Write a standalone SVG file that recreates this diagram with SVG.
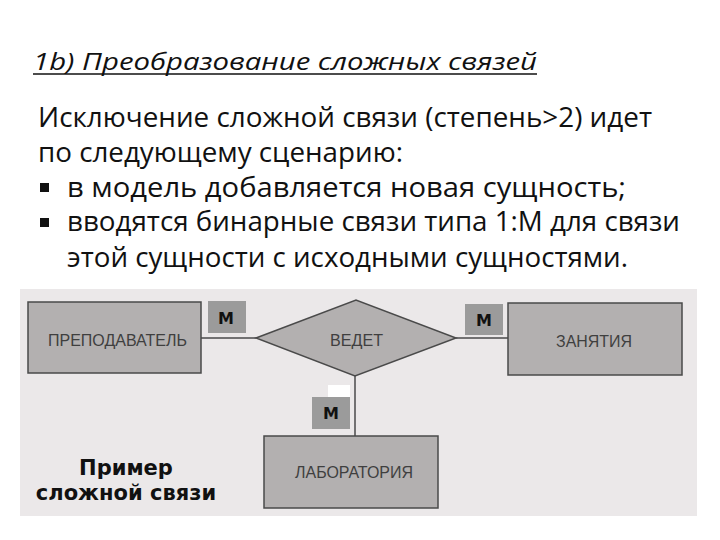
<svg xmlns="http://www.w3.org/2000/svg" width="720" height="540" viewBox="0 0 720 540">
<style>
.main{font-family:"Open Sans","Liberation Sans",sans-serif;font-size:27.5px;fill:#111}
.title{font-family:"Open Sans","Liberation Sans",sans-serif;font-size:24px;font-style:italic;fill:#111}
.ent{fill:#b3b0b0;stroke:#4a4a4a;stroke-width:1.5}
.etxt{font-family:"Liberation Sans",Arial,sans-serif;font-size:17px;fill:#3f3f3f}
.mbox{fill:#9b9b9b}
.mtxt{font-family:"DejaVu Sans",sans-serif;font-size:16px;font-weight:bold;fill:#111;text-anchor:middle}
.conn{stroke:#4a4a4a;stroke-width:1.5;fill:none}
.cap{font-family:"DejaVu Sans",Verdana,sans-serif;font-size:21px;font-weight:bold;fill:#111;text-anchor:middle}
</style>
<rect width="720" height="540" fill="#ffffff"/>
<g id="title">
<text class="title" x="33" y="70" textLength="504" lengthAdjust="spacingAndGlyphs">1b) Преобразование сложных связей</text>
<line x1="33" y1="74" x2="537" y2="74" stroke="#111" stroke-width="1.6"/>
</g>
<g id="body">
<text class="main" x="38" y="127" textLength="614" lengthAdjust="spacingAndGlyphs">Исключение сложной связи (степень&gt;2) идет</text>
<text class="main" x="38" y="162" textLength="365" lengthAdjust="spacingAndGlyphs">по следующему сценарию:</text>
<rect x="40" y="183" width="9" height="9" fill="#111"/>
<text class="main" x="67" y="197" textLength="559" lengthAdjust="spacingAndGlyphs">в модель добавляется новая сущность;</text>
<rect x="40" y="218" width="9" height="9" fill="#111"/>
<text class="main" x="67" y="231" textLength="613" lengthAdjust="spacingAndGlyphs">вводятся бинарные связи типа 1:M для связи</text>
<text class="main" x="67" y="267" textLength="561" lengthAdjust="spacingAndGlyphs">этой сущности с исходными сущностями.</text>
</g>
<rect id="photo" x="20" y="289" width="677" height="227" fill="#ebe8e9"/>
<g id="connectors">
<line class="conn" x1="201" y1="338" x2="256" y2="338"/>
<line class="conn" x1="456" y1="338" x2="508" y2="338"/>
<line class="conn" x1="355" y1="376" x2="355" y2="436"/>
</g>
<g id="node-prepodavatel">
<rect class="ent" x="28" y="302" width="173" height="71"/>
<text class="etxt" x="48" y="346" textLength="139" lengthAdjust="spacingAndGlyphs">ПРЕПОДАВАТЕЛЬ</text>
</g>
<g id="node-vedet">
<polygon class="ent" points="256,338 356,300 456,338 355,376"/>
<text class="etxt" x="330" y="346" textLength="53" lengthAdjust="spacingAndGlyphs">ВЕДЕТ</text>
</g>
<g id="node-zanyatiya">
<rect class="ent" x="508" y="303" width="174" height="72"/>
<text class="etxt" x="556" y="347" textLength="76" lengthAdjust="spacingAndGlyphs">ЗАНЯТИЯ</text>
</g>
<g id="node-laboratoriya">
<rect class="ent" x="264" y="436" width="174" height="72"/>
<text class="etxt" x="295" y="478" textLength="118" lengthAdjust="spacingAndGlyphs">ЛАБОРАТОРИЯ</text>
</g>
<rect x="328" y="385" width="22" height="12" fill="#ffffff"/>
<g id="m1"><rect class="mbox" x="208" y="301" width="38" height="32"/><text class="mtxt" x="226" y="324">M</text></g>
<g id="m2"><rect class="mbox" x="465" y="304" width="38" height="31"/><text class="mtxt" x="484" y="326">M</text></g>
<g id="m3"><rect class="mbox" x="312" y="397" width="38" height="32"/><text class="mtxt" x="331" y="419">M</text></g>
<g id="caption">
<text class="cap" x="126" y="475">Пример</text>
<text class="cap" x="126" y="500">сложной связи</text>
</g>
</svg>
